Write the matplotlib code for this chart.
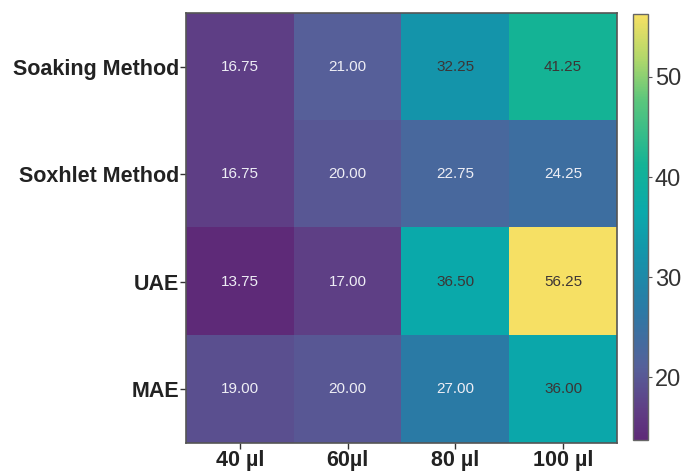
import numpy as np
import matplotlib
matplotlib.use("Agg")
import matplotlib.pyplot as plt
from matplotlib.colors import LinearSegmentedColormap

plt.rcParams['font.family'] = ['Liberation Sans', 'DejaVu Sans']

methods = ["Soaking Method", "Soxhlet Method", "UAE", "MAE"]
volumes = ["40 µl", "60µl", "80 µl", "100 µl"]
soaking = [16.75, 21.00, 32.25, 41.25]
soxhlet = [16.75, 20.00, 22.75, 24.25]
uae = [13.75, 17.00, 36.50, 56.25]
mae = [19.00, 20.00, 27.00, 36.00]

data = np.array([soaking, soxhlet, uae, mae])

# viridis-like palette as it appears in the reference (slightly washed out)
cmap = LinearSegmentedColormap.from_list("ref_viridis", [
    (0.00, "#5e2a78"),
    (0.07, "#5f3e85"),
    (0.17, "#56609a"),
    (0.31, "#2a7ba6"),
    (0.435, "#1594aa"),
    (0.535, "#0aa9ab"),
    (0.647, "#14b396"),
    (0.80, "#5cc67c"),
    (0.90, "#b4d86a"),
    (1.00, "#f6e064"),
])

fig = plt.figure(figsize=(6.84, 4.74), dpi=100)
ax = fig.add_axes([0.272, 0.0654, 0.63, 0.9072])
cax = fig.add_axes([0.925, 0.0717, 0.022, 0.8983])

vmin, vmax = data.min(), data.max()
im = ax.imshow(data, cmap=cmap, vmin=vmin, vmax=vmax, aspect='auto')

for i in range(data.shape[0]):
    for j in range(data.shape[1]):
        v = data[i, j]
        c = '#eeeef5' if v < 30 else '#3c3535'
        ax.text(j, i, f"{v:.2f}", ha='center', va='center', color=c, fontsize=11)

ax.set_xticks(range(len(volumes)))
ax.set_xticklabels(volumes, fontsize=15.5, fontweight='bold', color='#222222')
ax.set_yticks(range(len(methods)))
ax.set_yticklabels(methods, fontsize=15.5, fontweight='bold', color='#222222')
ax.tick_params(length=4, width=1, color='#333333', pad=1)
for s in ax.spines.values():
    s.set_color('#555555')
    s.set_linewidth(1.2)

cb = fig.colorbar(im, cax=cax)
cb.set_ticks([20, 30, 40, 50])
cb.ax.tick_params(labelsize=17, length=3, width=0.8, color='#555555',
                  labelcolor='#333333', pad=2)
cb.outline.set_edgecolor('#666666')
cb.outline.set_linewidth(1.0)

fig.savefig("out.png", dpi=100)
